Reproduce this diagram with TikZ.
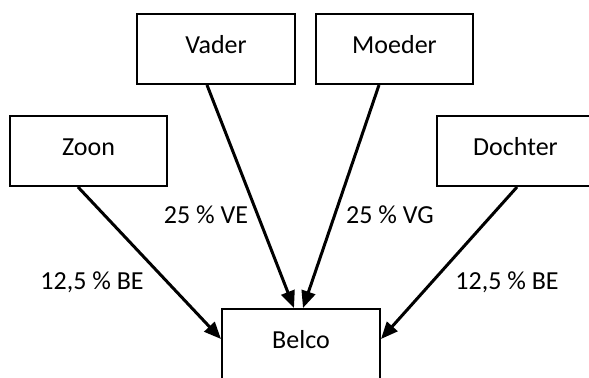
\documentclass[tikz,border=0pt]{standalone}
\usepackage{fontspec}
\setmainfont{Carlito}
\usetikzlibrary{arrows.meta,calc}
\tikzset{
  box/.style={draw=black, line width=1pt, inner xsep=0pt, inner ysep=0pt,
    minimum width=78.5pt, text height=19.5pt, text depth=15.5pt,
    font=\fontsize{13pt}{15pt}\selectfont},
  lbl/.style={anchor=base, inner sep=0pt, font=\fontsize{13pt}{15pt}\selectfont},
  conn/.style={line width=1.5pt, -{Triangle[length=8.5pt,width=7pt]}}
}
\begin{document}
\begin{tikzpicture}[x=0.5pt,y=-0.5pt]
\path[use as bounding box, clip] (0,0) rectangle (589,377);
\fill[white] (0,0) rectangle (589,377);
\node[box, minimum width=79pt] (vader) at (216,49) {Vader};
\node[box] (moeder) at (394.5,49) {Moeder};
\node[box] (zoon) at (88.5,151) {Zoon};
\node[box] (dochter) at (515.5,151) {Dochter};
\node[box, minimum width=79pt] (belco) at (301,344) {Belco};
\draw[conn] ($(zoon.south west)+(69,0)$) -- ($(belco.north west)+(0,31)$);
\draw[conn] ($(vader.south west)+(71,0)$) -- ($(belco.north west)+(73,0)$);
\draw[conn] ($(moeder.south west)+(64,0)$) -- ($(belco.north west)+(82,0)$);
\draw[conn] ($(dochter.south west)+(81,0)$) -- ($(belco.north east)+(0,31)$);
\node[lbl] (lve) at (206,223) {25 \% VE};
\node[lbl] (lvg) at (390,223) {25 \% VG};
\node[lbl] (lbe1) at (92,289) {12,5 \% BE};
\node[lbl] (lbe2) at (507,289) {12,5 \% BE};
\end{tikzpicture}
\end{document}
